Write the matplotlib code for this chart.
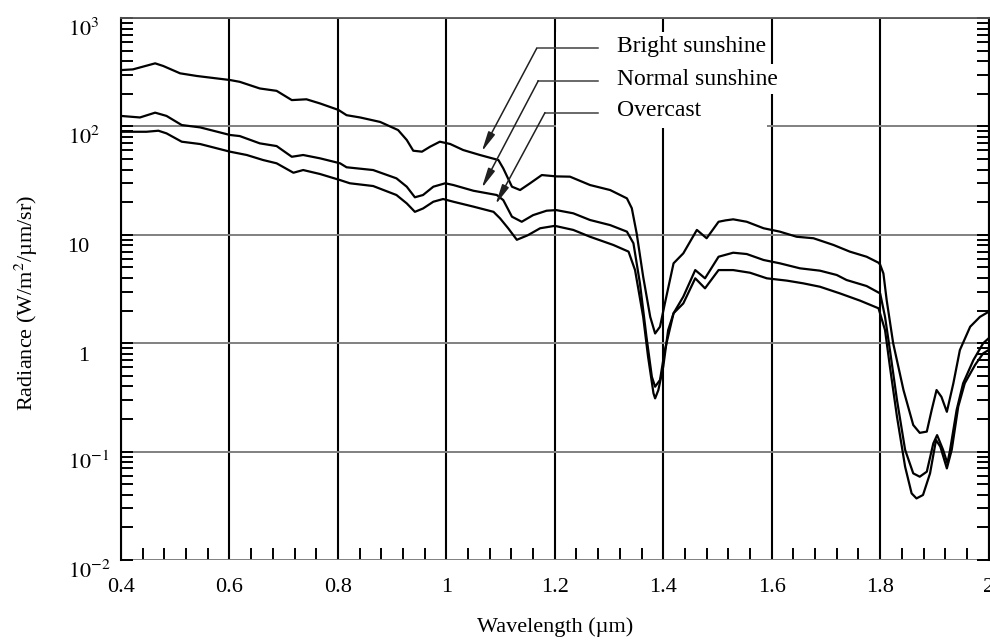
import matplotlib
matplotlib.use('Agg')
import matplotlib.pyplot as plt
import matplotlib.transforms as mtransforms
from matplotlib.patches import Rectangle
from matplotlib.ticker import LogLocator, MultipleLocator, NullFormatter

plt.rcParams['font.family'] = ['Liberation Serif', 'DejaVu Serif']
plt.rcParams['mathtext.fontset'] = 'stix'

# spectral radiance, W/m^2/um/sr
bright_wl = [0.400, 0.422, 0.463, 0.478, 0.509, 0.540, 0.601, 0.619, 0.656, 0.687,
             0.715, 0.742, 0.767, 0.801, 0.816, 0.841, 0.878, 0.911, 0.927, 0.939,
             0.955, 0.970, 0.988, 1.007, 1.031, 1.062, 1.096, 1.105, 1.121, 1.136,
             1.154, 1.176, 1.203, 1.228, 1.265, 1.302, 1.333, 1.342, 1.351, 1.363,
             1.376, 1.385, 1.394, 1.403, 1.419, 1.437, 1.462, 1.480, 1.502, 1.515,
             1.529, 1.554, 1.585, 1.615, 1.646, 1.677, 1.714, 1.744, 1.775, 1.797,
             1.800, 1.806, 1.812, 1.824, 1.843, 1.861, 1.873, 1.886, 1.895, 1.904,
             1.913, 1.923, 1.935, 1.947, 1.966, 1.984, 2.000]
bright_rad = [331, 336, 382, 361, 309, 292, 268, 258, 224, 213,
              175, 178, 163, 142, 127, 121, 110, 92.6, 75, 59.7,
              58.5, 65, 72.3, 68.9, 60.6, 54.5, 49, 41, 27.8, 25.9,
              29.8, 35.6, 34.6, 34.4, 28.8, 25.9, 21.7, 17.6, 10.3, 4.1,
              1.75, 1.23, 1.42, 2.33, 5.46, 6.75, 11.1, 9.3, 13.2, 13.6,
              13.9, 13.2, 11.5, 10.7, 9.6, 9.3, 8.06, 7.0, 6.28, 5.53,
              5.3, 4.4, 2.5, 1.0, 0.37, 0.176, 0.149, 0.153, 0.242, 0.37,
              0.32, 0.233, 0.427, 0.865, 1.42, 1.75, 1.95]

normal_wl = [0.400, 0.435, 0.463, 0.484, 0.512, 0.546, 0.601, 0.619, 0.656, 0.687,
             0.715, 0.736, 0.767, 0.804, 0.816, 0.865, 0.908, 0.927, 0.942, 0.957,
             0.976, 0.998, 1.013, 1.050, 1.093, 1.105, 1.121, 1.139, 1.160, 1.185,
             1.203, 1.234, 1.265, 1.302, 1.333, 1.345, 1.357, 1.369, 1.379, 1.385,
             1.394, 1.403, 1.419, 1.437, 1.459, 1.477, 1.502, 1.529, 1.554, 1.585,
             1.615, 1.652, 1.689, 1.720, 1.738, 1.775, 1.800, 1.809, 1.818, 1.831,
             1.846, 1.861, 1.873, 1.886, 1.898, 1.905, 1.916, 1.924, 1.929, 1.941,
             1.953, 1.972, 1.990, 2.000]
normal_rad = [125, 121, 134, 125, 103, 98, 83.4, 81.5, 69.8, 65.9,
              52.5, 54.5, 50.8, 45.7, 42, 39.6, 33.2, 27.8, 22.2, 23.3,
              27.8, 29.9, 28.8, 25.5, 23.3, 20.9, 14.7, 13.2, 15.2, 16.7,
              16.9, 15.8, 13.7, 12.3, 10.7, 8.36, 3.57, 1.15, 0.49, 0.397,
              0.458, 0.865, 1.89, 2.69, 4.73, 3.97, 6.28, 6.84, 6.65, 5.86,
              5.46, 4.91, 4.67, 4.26, 3.83, 3.37, 2.88, 1.75, 0.865, 0.30,
              0.104, 0.063, 0.0587, 0.0653, 0.119, 0.142, 0.104, 0.078, 0.104, 0.242,
              0.427, 0.70, 1.0, 1.11]

overcast_wl = [0.400, 0.447, 0.469, 0.484, 0.512, 0.546, 0.601, 0.632, 0.662, 0.687,
               0.718, 0.736, 0.767, 0.804, 0.822, 0.865, 0.908, 0.927, 0.942, 0.957,
               0.976, 0.994, 1.013, 1.050, 1.087, 1.099, 1.114, 1.130, 1.150, 1.173,
               1.200, 1.234, 1.265, 1.308, 1.336, 1.348, 1.363, 1.372, 1.382, 1.385,
               1.391, 1.400, 1.409, 1.419, 1.437, 1.459, 1.477, 1.502, 1.529, 1.560,
               1.591, 1.628, 1.658, 1.689, 1.726, 1.763, 1.797, 1.809, 1.818, 1.831,
               1.846, 1.858, 1.867, 1.879, 1.892, 1.903, 1.911, 1.923, 1.932, 1.944,
               1.956, 1.975, 1.990, 2.000]
overcast_rad = [89.3, 89.3, 91.3, 86.3, 72.3, 68.8, 58.5, 54.5, 49, 45.7,
                37.4, 39.6, 36.4, 32, 29.9, 28.2, 23.3, 19.5, 16.3, 17.5,
                20.2, 21.4, 20.2, 18.2, 16.3, 14.2, 11.5, 9.0, 9.9, 11.5,
                12.1, 11.1, 9.6, 8.06, 7.0, 4.73, 1.75, 0.75, 0.345, 0.31,
                0.37, 0.607, 1.32, 1.89, 2.33, 3.97, 3.21, 4.73, 4.73, 4.47,
                3.97, 3.78, 3.57, 3.32, 2.88, 2.47, 2.10, 1.32, 0.607, 0.21,
                0.0726, 0.0412, 0.037, 0.0398, 0.063, 0.128, 0.111, 0.07, 0.104, 0.26,
                0.427, 0.63, 0.807, 0.865]

series_names = ['Bright sunshine', 'Normal sunshine', 'Overcast']

xticks = [0.4, 0.6, 0.8, 1.0, 1.2, 1.4, 1.6, 1.8, 2.0]
xtick_labels = ['0.4', '0.6', '0.8', '1', '1.2', '1.4', '1.6', '1.8', '2']
yticks = [1e-2, 1e-1, 1, 10, 1e2, 1e3]
ytick_labels = [r'$10^{-2}$', r'$10^{-1}$', '1', '10', r'$10^{2}$', r'$10^{3}$']

fig = plt.figure(figsize=(9.9, 6.42), dpi=100)
ax = fig.add_axes([0.1222, 0.1277, 0.8764, 0.8442])

for wl, rad in [(bright_wl, bright_rad), (normal_wl, normal_rad), (overcast_wl, overcast_rad)]:
    ax.plot(wl, rad, color='black', lw=1.6, zorder=3)

ax.set_yscale('log')
ax.set_xlim(0.4, 2.0)
ax.set_ylim(1e-2, 1e3)

ax.set_xticks(xticks)
ax.set_xticklabels(xtick_labels)
ax.xaxis.set_minor_locator(MultipleLocator(0.04))
ax.set_yticks(yticks)
ax.yaxis.set_minor_locator(LogLocator(base=10, subs=range(2, 10), numticks=12))
ax.yaxis.set_minor_formatter(NullFormatter())

ax.tick_params(axis='x', which='major', length=0, pad=13, labelsize=16)
ax.tick_params(axis='x', which='minor', direction='in', length=8.6, width=1.4,
               bottom=True, top=False)
ax.tick_params(axis='y', which='both', direction='in', length=8.6, width=1.4,
               left=True, right=True, labelleft=False)

ax.set_axisbelow(True)
ax.xaxis.grid(True, which='major', color='black', lw=1.5)
ax.yaxis.grid(True, which='major', color='#808080', lw=1.4)

ax.spines['bottom'].set_visible(False)
ax.spines['left'].set_linewidth(1.5)
ax.spines['right'].set_linewidth(1.5)
ax.spines['top'].set_color('#555555')
ax.spines['top'].set_linewidth(1.3)

# y tick labels: the "10" of each power sits at the same spot, exponents hang right
ylab_tr = mtransforms.blended_transform_factory(ax.transAxes, ax.transData) + \
    mtransforms.ScaledTranslation(0, -17.5 / 100, fig.dpi_scale_trans)
for val, lab in zip(yticks, ytick_labels):
    if lab.startswith('$'):
        ax.text(-0.0611, val, lab, transform=ylab_tr, ha='left', va='baseline',
                fontsize=16, clip_on=False)
    else:
        ax.text(-0.0369, val, lab, transform=ylab_tr, ha='right', va='baseline',
                fontsize=16, clip_on=False)

ax.set_xlabel('Wavelength (µm)', fontsize=16)
ax.xaxis.set_label_coords(0.5, -0.105)
ax.set_ylabel(r'Radiance (W/m$^2$/µm/sr)', fontsize=16)
ax.yaxis.set_label_coords(-0.093, 0.474)

# blank panel behind the callout labels
ax.add_patch(Rectangle((1.203, 97), 1.592 - 1.203, 740 - 97,
                       facecolor='white', edgecolor='none', zorder=1))

# callouts: label y, elbow point, arrow tip
callouts = [
    (551, (1.1666, 525), (1.0652, 58.4)),
    (273, (1.1696, 264), (1.0652, 26.9)),
    (139, (1.1819, 134), (1.0906, 19.0)),
]
for name, (ty, elbow, tip) in zip(series_names, callouts):
    ax.plot([elbow[0], 1.2797], [elbow[1], elbow[1]], color='#404040', lw=1.1, zorder=4)
    ax.annotate('', xy=tip, xytext=elbow,
                arrowprops=dict(arrowstyle='-|>,head_length=1.2,head_width=0.22',
                                color='#202020', lw=1.1, shrinkA=0, shrinkB=0,
                                mutation_scale=10),
                zorder=4)
    box = dict(facecolor='white', edgecolor='none', pad=3) if name == 'Normal sunshine' else None
    ax.text(1.3147, ty, name, fontsize=17, ha='left', va='center', zorder=5, bbox=box)

fig.savefig('out.png', dpi=100)
plt.close(fig)
